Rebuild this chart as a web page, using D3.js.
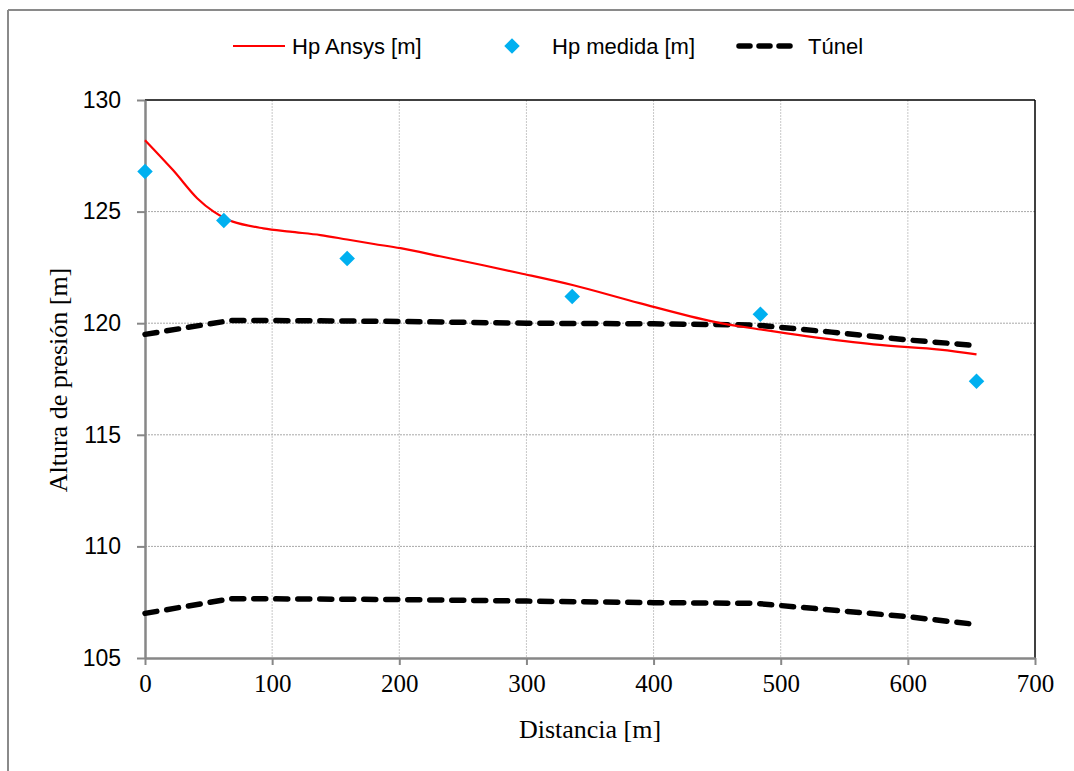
<!DOCTYPE html>
<html>
<head>
<meta charset="utf-8">
<script src="https://cdn.jsdelivr.net/npm/d3@7"></script>
<style>
  html, body { margin: 0; padding: 0; background: #fff; }
  svg { display: block; }
</style>
</head>
<body>
<svg id="chart" width="1074" height="771"></svg>
<script>
// ---- data ----
const ansysX = [0, 22, 41, 54, 69, 93, 114, 138, 159, 180, 201, 232, 295, 337, 389, 447, 484, 520, 573, 625, 654];
const ansysY = [128.2, 126.86, 125.6, 125.0, 124.55, 124.25, 124.1, 123.95, 123.75, 123.55, 123.36, 123.0, 122.24, 121.7, 120.9, 120.07, 119.72, 119.42, 119.05, 118.82, 118.6];

const medX = [0, 62, 159, 336, 484, 654];
const medY = [126.8, 124.6, 122.9, 121.2, 120.4, 117.4];

const tunelX = [0, 67, 100, 200, 300, 400, 480, 540, 600, 654];
const tunelTopY = [119.5, 120.12, 120.12, 120.08, 120.0, 119.97, 119.92, 119.6, 119.25, 119.0];
const tunelBotY = [107.0, 107.65, 107.65, 107.62, 107.55, 107.48, 107.45, 107.15, 106.85, 106.5];

const xTicks = [0, 100, 200, 300, 400, 500, 600, 700];
const yTicks = [105, 110, 115, 120, 125, 130];

const legendLabels = ["Hp Ansys [m]", "Hp medida [m]", "Túnel"];
const xTitle = "Distancia [m]";
const yTitle = "Altura de presión [m]";

// ---- layout ----
const svg = d3.select("#chart");
const L = 145, R = 1035, T = 100, B = 658;
const x = d3.scaleLinear().domain([0, 700]).range([L, R]);
const y = d3.scaleLinear().domain([105, 130]).range([B, T]);

const sans = "'Liberation Sans', Arial, sans-serif";
const serif = "'Liberation Serif', 'Times New Roman', serif";

// outer frame (top & left only visible)
svg.append("line").attr("x1", 8).attr("x2", 1074).attr("y1", 10).attr("y2", 10)
  .attr("stroke", "#8a8a8a").attr("stroke-width", 2);
svg.append("line").attr("x1", 8).attr("x2", 8).attr("y1", 10).attr("y2", 771)
  .attr("stroke", "#8a8a8a").attr("stroke-width", 2);

// grid
const grid = svg.append("g");
grid.selectAll(".vg").data(xTicks.slice(1, -1)).enter().append("line")
  .attr("x1", d => x(d)).attr("x2", d => x(d)).attr("y1", T).attr("y2", B)
  .attr("stroke", "#c8c8c8").attr("stroke-width", 1).attr("stroke-dasharray", "2,1");
grid.selectAll(".hg").data(yTicks.slice(1, -1)).enter().append("line")
  .attr("x1", L).attr("x2", R).attr("y1", d => y(d)).attr("y2", d => y(d))
  .attr("stroke", "#a8a8a8").attr("stroke-width", 1).attr("stroke-dasharray", "2,1");

// top and right border (black)
svg.append("line").attr("x1", L).attr("x2", R).attr("y1", T).attr("y2", T)
  .attr("stroke", "#000").attr("stroke-width", 1.5);
svg.append("line").attr("x1", R).attr("x2", R).attr("y1", T).attr("y2", B)
  .attr("stroke", "#000").attr("stroke-width", 1.5);

// axes
const xAxis = d3.axisBottom(x).tickValues(xTicks).tickSize(7).tickPadding(9).tickSizeOuter(0);
const gx = svg.append("g").attr("transform", `translate(0,${B})`).call(xAxis);
gx.select(".domain").attr("stroke", "#878787").attr("stroke-width", 2.5);
gx.selectAll(".tick line").attr("stroke", "#878787").attr("stroke-width", 2);
gx.selectAll(".tick text").attr("font-family", serif).attr("font-size", 25).attr("fill", "#000");

const yAxis = d3.axisLeft(y).tickValues(yTicks).tickSize(8).tickPadding(16).tickSizeOuter(0);
const gy = svg.append("g").attr("transform", `translate(${L},0)`).call(yAxis);
gy.select(".domain").attr("stroke", "#878787").attr("stroke-width", 2.5);
gy.selectAll(".tick line").attr("stroke", "#878787").attr("stroke-width", 2);
gy.selectAll(".tick text").attr("font-family", sans).attr("font-size", 23).attr("fill", "#000");

// tunnel lines
const lineGen = d3.line().x(d => x(d[0])).y(d => y(d[1]));
const tunnelStyle = sel => sel.attr("fill", "none").attr("stroke", "#000").attr("stroke-width", 5.5)
  .attr("stroke-linecap", "round").attr("stroke-dasharray", "12,10");
svg.append("path").datum(tunelX.map((d, i) => [d, tunelTopY[i]])).attr("d", lineGen).call(tunnelStyle);
svg.append("path").datum(tunelX.map((d, i) => [d, tunelBotY[i]])).attr("d", lineGen).call(tunnelStyle);

// ansys line
const smooth = d3.line().x(d => x(d[0])).y(d => y(d[1])).curve(d3.curveCatmullRom.alpha(0.5));
svg.append("path").datum(ansysX.map((d, i) => [d, ansysY[i]])).attr("d", smooth)
  .attr("fill", "none").attr("stroke", "#ff0000").attr("stroke-width", 2.2);

// measured points
const diamond = d3.symbol().type(d3.symbolSquare).size(121);
svg.selectAll(".pt").data(medX.map((d, i) => [d, medY[i]])).enter().append("path")
  .attr("d", diamond)
  .attr("transform", d => `translate(${x(d[0])},${y(d[1])}) rotate(45)`)
  .attr("fill", "#00b0f0");

// axis titles
svg.append("text").attr("x", 590).attr("y", 738).attr("text-anchor", "middle")
  .attr("font-family", serif).attr("font-size", 26).text(xTitle);
svg.append("text").attr("transform", `translate(67,${(T + B) / 2 + 1}) rotate(-90)`)
  .attr("text-anchor", "middle").attr("font-family", serif).attr("font-size", 26).text(yTitle);

// legend
const ly = 46;
const lg = svg.append("g");
lg.append("line").attr("x1", 233).attr("x2", 285).attr("y1", ly).attr("y2", ly)
  .attr("stroke", "#ff0000").attr("stroke-width", 2.2);
lg.append("text").attr("x", 292).attr("y", ly).attr("dy", "0.35em")
  .attr("font-family", sans).attr("font-size", 22).text(legendLabels[0]);
lg.append("path").attr("d", diamond).attr("transform", `translate(512,${ly}) rotate(45)`).attr("fill", "#00b0f0");
lg.append("text").attr("x", 552).attr("y", ly).attr("dy", "0.35em")
  .attr("font-family", sans).attr("font-size", 22).text(legendLabels[1]);
lg.append("line").attr("x1", 739).attr("x2", 791).attr("y1", ly).attr("y2", ly)
  .call(tunnelStyle).attr("stroke-dasharray", "11,9");
lg.append("text").attr("x", 808).attr("y", ly).attr("dy", "0.35em")
  .attr("font-family", sans).attr("font-size", 22).text(legendLabels[2]);
</script>
</body>
</html>
